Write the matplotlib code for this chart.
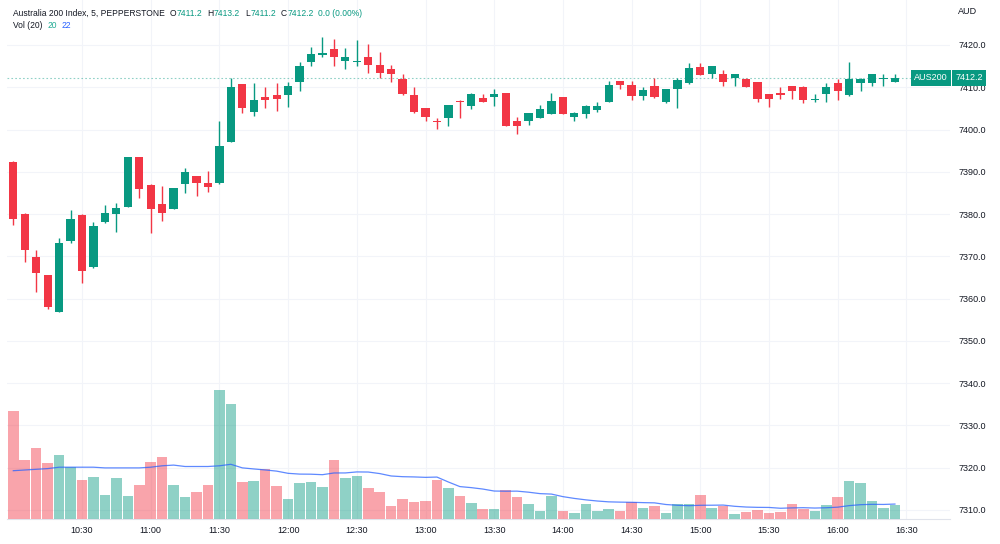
import matplotlib
matplotlib.use("Agg")
import matplotlib.pyplot as plt
import matplotlib.transforms as mtransforms
import numpy as np
import pandas as pd

# ---------------- data ----------------
opens = [7392.3, 7380.0, 7369.9, 7365.5, 7356.9, 7373.7, 7379.8, 7367.5, 7378.1, 7380.0,
         7381.7, 7393.4, 7386.9, 7382.4, 7381.3, 7387.1, 7389.0, 7387.3, 7387.3, 7397.1,
         7410.7, 7404.1, 7407.7, 7408.2, 7408.2, 7411.2, 7416.0, 7417.7, 7419.0, 7416.1,
         7415.9, 7417.2, 7415.3, 7414.3, 7412.0, 7408.2, 7405.1, 7402.1, 7402.7, 7406.8,
         7405.5, 7407.5, 7407.6, 7408.6, 7402.0, 7402.0, 7402.8, 7403.7, 7407.7, 7402.9,
         7403.6, 7404.6, 7406.5, 7411.5, 7410.6, 7408.0, 7410.2, 7406.4, 7409.7, 7410.9,
         7414.8, 7413.1, 7413.1, 7412.1, 7412.0, 7411.2, 7408.3, 7408.6, 7410.2, 7410.1,
         7407.0, 7408.3, 7411.0, 7408.1, 7411.1, 7411.0, 7412.0, 7411.2]
highs = [7392.5, 7380.2, 7371.5, 7365.6, 7374.3, 7381.0, 7380.0, 7378.1, 7382.1, 7382.7,
         7393.6, 7393.5, 7387.0, 7386.6, 7386.2, 7391.0, 7389.1, 7390.1, 7402.0, 7412.1,
         7410.8, 7410.9, 7410.0, 7411.1, 7411.2, 7415.9, 7419.5, 7422.0, 7421.4, 7419.2,
         7421.2, 7420.2, 7418.3, 7415.3, 7413.1, 7410.1, 7405.2, 7402.7, 7405.8, 7406.9,
         7408.7, 7408.4, 7409.5, 7408.7, 7402.9, 7403.9, 7405.7, 7408.7, 7407.8, 7404.1,
         7405.7, 7406.5, 7411.6, 7411.6, 7411.6, 7410.0, 7412.1, 7409.7, 7412.1, 7415.8,
         7415.8, 7415.1, 7414.1, 7413.2, 7412.1, 7411.3, 7408.4, 7410.0, 7410.3, 7410.2,
         7408.3, 7411.0, 7412.0, 7416.0, 7412.1, 7413.2, 7413.1, 7413.2]
lows = [7377.4, 7368.6, 7361.6, 7357.5, 7356.8, 7373.2, 7363.6, 7367.3, 7378.0, 7375.7,
        7381.6, 7383.9, 7375.5, 7378.4, 7381.2, 7385.1, 7384.3, 7385.3, 7387.2, 7397.0,
        7403.9, 7403.2, 7405.2, 7404.5, 7405.3, 7409.2, 7415.0, 7417.1, 7415.1, 7414.3,
        7415.0, 7413.4, 7412.3, 7411.3, 7408.2, 7404.0, 7402.1, 7400.1, 7400.8, 7402.8,
        7404.8, 7406.4, 7405.6, 7400.8, 7398.9, 7401.1, 7402.7, 7403.6, 7403.6, 7402.0,
        7402.7, 7404.2, 7406.4, 7409.7, 7407.0, 7407.0, 7407.5, 7406.3, 7405.0, 7410.8,
        7412.8, 7412.2, 7410.3, 7410.3, 7410.0, 7406.4, 7405.4, 7407.2, 7407.2, 7406.2,
        7406.4, 7406.4, 7407.0, 7408.0, 7409.1, 7410.3, 7410.3, 7411.2]
closes = [7378.8, 7371.4, 7366.0, 7358.0, 7373.2, 7378.9, 7366.6, 7377.1, 7380.3, 7381.5,
          7393.5, 7385.9, 7381.3, 7380.3, 7386.1, 7390.0, 7387.3, 7386.3, 7396.1, 7410.1,
          7405.1, 7407.1, 7407.1, 7407.2, 7410.2, 7415.0, 7417.9, 7418.0, 7417.2, 7417.1,
          7416.2, 7415.3, 7413.3, 7413.1, 7408.3, 7404.1, 7402.9, 7401.8, 7405.7, 7406.4,
          7408.5, 7406.5, 7408.4, 7400.9, 7400.9, 7403.8, 7404.8, 7406.7, 7403.7, 7403.8,
          7405.6, 7405.6, 7410.5, 7410.5, 7407.9, 7409.3, 7407.6, 7409.6, 7411.8, 7414.6,
          7412.9, 7415.0, 7411.2, 7413.1, 7410.1, 7407.2, 7407.2, 7408.2, 7409.0, 7407.0,
          7407.2, 7410.1, 7409.0, 7412.0, 7412.0, 7413.1, 7412.1, 7412.2]
volumes = [155, 85, 101, 80, 92, 74, 56, 60, 35, 58,
           33, 48, 82, 88, 49, 32, 38, 48, 185, 164,
           53, 54, 72, 47, 29, 52, 53, 46, 84, 59,
           62, 45, 38, 19, 29, 25, 26, 56, 44, 33,
           23, 14, 15, 42, 31, 22, 12, 33, 11, 8,
           21, 12, 14, 11, 24, 16, 19, 9, 22, 21,
           35, 16, 19, 7, 10, 13, 9, 10, 21, 14,
           11, 20, 31, 55, 51, 26, 16, 20]
# volume MA(20) before 20 visible bars exist
vol_ma_head = [69, 70, 71, 72, 74, 74, 74, 74, 73, 73,
               73, 73, 74, 76, 77, 75, 75, 75, 76]
vol_len = 20
vol_ma_shown = 22          # value printed in the legend line
change_text = "0.0 (0.00%)"
x_tick_labels = ["10:30", "11:00", "11:30", "12:00", "12:30", "13:00", "13:30",
                 "14:00", "14:30", "15:00", "15:30", "16:00", "16:30"]
session_start = "10:00"
bar_minutes = 5
y_ticks = [7310, 7320, 7330, 7340, 7350, 7360, 7370, 7380, 7390, 7400, 7410, 7420]
last_price = 7412.2
symbol = "AUS200"
title = "Australia 200 Index, 5, PEPPERSTONE"
currency = "AUD"

# ---------------- styling ----------------
UP = "#089981"
DOWN = "#F23645"
TXT = "#131722"
GRID = "#F2F4F9"
FONT = "Liberation Sans"
FS = 6.5
HFS = 6.15
plt.rcParams["font.family"] = [FONT, "DejaVu Sans"]

o = np.array(opens); h = np.array(highs); l = np.array(lows); c = np.array(closes)
v = np.array(volumes, dtype=float)
n = len(o)
x = np.arange(n)
up = c >= o

ma = pd.Series(v).rolling(vol_len).mean().to_numpy()
ma[:len(vol_ma_head)] = vol_ma_head

W, H = 1000, 544
fig = plt.figure(figsize=(W / 100, H / 100), dpi=100)
fig.patch.set_facecolor("white")

left_px, right_px, top_px, bottom_px = 7, 950, 0, 519
rect = [left_px / W, 1 - bottom_px / H, (right_px - left_px) / W, (bottom_px - top_px) / H]
ax = fig.add_axes(rect)
axv = fig.add_axes(rect, sharex=ax)
ax.set_zorder(1)
axv.set_zorder(2)
axv.patch.set_visible(False)

bar_px = 11.45
x0_px = 13.3
ax.set_xlim((left_px - x0_px) / bar_px, (right_px - x0_px) / bar_px)
px_per_unit = 4.227
ax.set_ylim(7420 - (bottom_px - 45) / px_per_unit, 7420 + 45 / px_per_unit)

# grid + ticks
ax.set_yticks(y_ticks)
ax.set_yticklabels([f"{t:.1f}" for t in y_ticks])
t0 = pd.Timestamp("2024-01-01 " + session_start)
tick_pos = [(pd.Timestamp("2024-01-01 " + s) - t0).total_seconds() / 60 / bar_minutes
            for s in x_tick_labels]
ax.set_xticks(tick_pos)
ax.set_xticklabels(x_tick_labels)
ax.grid(True, color=GRID, lw=0.8, zorder=0)
ax.set_axisbelow(True)
ax.yaxis.tick_right()
ax.tick_params(axis="y", length=0, pad=6, labelsize=FS, labelcolor=TXT)
ax.tick_params(axis="x", length=0, pad=5, labelsize=FS, labelcolor=TXT)
for s in ["top", "left", "right"]:
    ax.spines[s].set_visible(False)
ax.spines["bottom"].set_color("#E0E3EB")
ax.spines["bottom"].set_linewidth(0.8)

# candles
cols = np.where(up, UP, DOWN)
ax.vlines(x, l, h, colors=cols, lw=1.0, zorder=3)
body_bot = np.minimum(o, c)
body_h = np.maximum(np.abs(c - o), 0.3)
ax.bar(x, body_h, bottom=body_bot, width=0.72, color=cols, edgecolor="none", zorder=4)

# last price line and labels
ax.axhline(last_price, color=UP, lw=0.8, ls=(0, (1.5, 2)), alpha=0.45, zorder=2)
bt = mtransforms.blended_transform_factory(ax.transAxes, ax.transData)
ax.text(0.980, last_price, symbol, transform=bt, ha="center", va="center", fontsize=FS,
        color="white", zorder=10, clip_on=False,
        bbox=dict(boxstyle="square,pad=0.35", fc=UP, ec="none"))
ax.text(1.0205, last_price, f"{last_price:.1f}", transform=bt, ha="center", va="center",
        fontsize=FS, color="white", zorder=10, clip_on=False,
        bbox=dict(boxstyle="square,pad=0.35", fc=UP, ec="none"))

# volume
vcols = [(8 / 255, 153 / 255, 129 / 255, 0.45) if u else (242 / 255, 54 / 255, 69 / 255, 0.45)
         for u in up]
axv.bar(x, v, width=0.92, color=vcols, edgecolor="none")
axv.plot(x, ma, color="#2962FF", lw=0.9, alpha=0.75)
axv.set_ylim(0, (bottom_px - top_px) / 0.7)
axv.axis("off")

# header
renderer = fig.canvas.get_renderer()


def chain(x_px, y_px, parts):
    cur = x_px
    for s, col, gap in parts:
        t = fig.text(cur / W, 1 - y_px / H, s, color=col, fontsize=HFS,
                     ha="left", va="center")
        bb = t.get_window_extent(renderer)
        cur = bb.x1 + gap


chain(13, 13, [(title, TXT, 5), ("O", TXT, 0.3), (f"{opens[-1]:.1f}", UP, 5),
               ("H", TXT, 0.3), (f"{highs[-1]:.1f}", UP, 5),
               ("L", TXT, 0.3), (f"{lows[-1]:.1f}", UP, 5),
               ("C", TXT, 0.3), (f"{closes[-1]:.1f}", UP, 5),
               (change_text, UP, 0)])
chain(13, 26, [(f"Vol ({vol_len})", TXT, 5), (f"{volumes[-1]:.0f}", "#22AB94", 5),
               (f"{vol_ma_shown}", "#2962FF", 0)])

fig.text(958 / W, 1 - 12 / H, currency, fontsize=FS, color=TXT, ha="left", va="center")

fig.savefig("out.png", dpi=100, facecolor="white")
